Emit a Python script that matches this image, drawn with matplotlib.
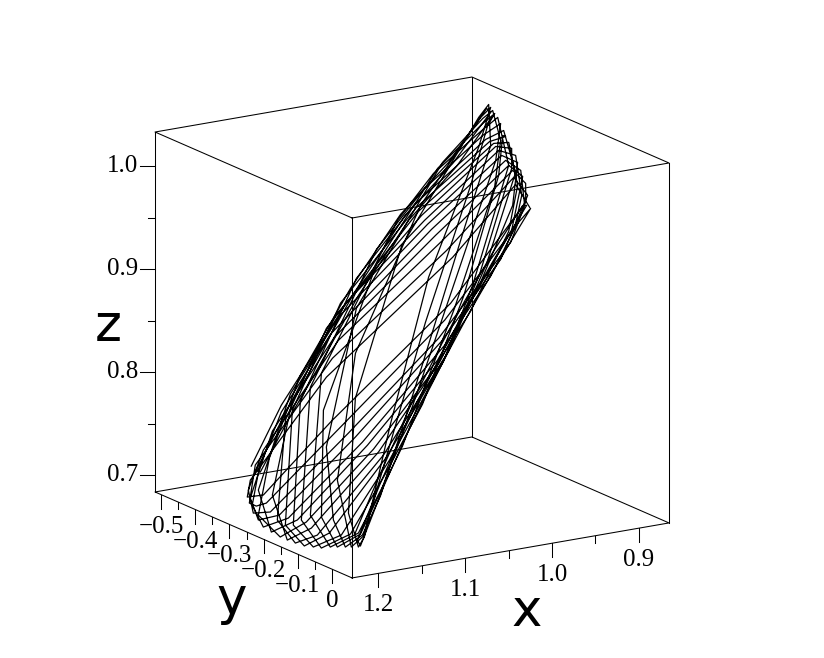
import matplotlib
matplotlib.use('Agg')
import matplotlib.pyplot as plt
from matplotlib.lines import Line2D
from matplotlib.transforms import IdentityTransform
from mpl_toolkits.mplot3d import proj3d

nan = float('nan')

# orbit, traced by eye loop by loop from the scallops at the top and bottom of the band
curve_x = [
    .9177, .9102, .9777, 1.0977, 1.1877, 1.1986, 1.1909, 1.1209, 1.0048, .9164,
    .9056, .9034, .9740, 1.0717, 1.1652, 1.1942, 1.2053, 1.1978, 1.1208, 1.0297, .9454, .9186,
    .9001, .9006, .9703, 1.0715, 1.1362, 1.1765, 1.2012, 1.2092, 1.1939, 1.1202, 1.0312, .9731, .9358, .9140,
    .8937, .8977, .9679, 1.0457, 1.1072, 1.1673, 1.2044, 1.2081, 1.1889, 1.1197, 1.0536, 1.0012, .9399, .9100,
    .8890, .8958, .9653, 1.0697, 1.1390, 1.1995, 1.2053, 1.1918, 1.1191, 1.0331, .9672, .9034,
    .8843, .8967, .9639, 1.0289, 1.1221, 1.1959, 1.2003, 1.1820, 1.1195, 1.0409, .9855, .9022,
    .8792, .8942, .9374, .9789, 1.0975, 1.1832, 1.1934, 1.1739, 1.1362, 1.1062, 1.0061, .9199, .8912,
    .8773, .8859, .9275, 1.0461, 1.1378, 1.1766, 1.1872, 1.1734, 1.1438, 1.0532, .9556, .8981,
    .8755, .8870, .9922, 1.0980, 1.1665, 1.1819, 1.1738, 1.0985, .9989, .9042,
    .8764, .8862, .9610, 1.0722, 1.1522, 1.1848, 1.1736, 1.1211, 1.0259, .9291, .8879,
    .8781, .8898, .9329, 1.0127, 1.1178, 1.1798, 1.1905, 1.1736, 1.1400, 1.0792, .9805, .9046,
    .8815, .8956, .9506, 1.0041, 1.1100, 1.1897, 1.1976, 1.1777, 1.1276, 1.0740, .9955, .9120, .8875,
    .8869, .8963, .9648, 1.0497, 1.1305, 1.1991, 1.2034, 1.1858, 1.1190, 1.0371, .9764, .9027,
    .8913, .8966, .9663, 1.0576, 1.1248, 1.1872, 1.2069, 1.1902, 1.1194, 1.0431, .9843, .9235,
    .8969, .8994, .9690, 1.0585, 1.1222, 1.1901, 1.2088, 1.1913, 1.1199, 1.0427, .9382,
    .9028, .9022, .9720, 1.0716, 1.1506, 1.1980, 1.2072, 1.1959, 1.1203, 1.0303, .9592,
    .9116, .9070, .9761, 1.0844, 1.1771, 1.2012, 1.2001, 1.1943, 1.1206, 1.0169, .9308,
    .9179, .9627, 1.0006, 1.0346, 1.0791, 1.0967, 1.1374, 1.1805,
    1.1783, 1.1364, 1.0957, 1.0775, 1.0330, .9991, .9611, .9178,
    .9194, .9601, .9980, 1.0320, 1.0764, 1.0952, 1.1359, 1.1767, nan,
    1.1793, 1.1322, 1.1072, 1.0370, .9743, .9250, .8786,
    .8793, .9239, .9739, 1.0377, 1.1090, 1.1335, 1.1795,
    1.1790, 1.1332, 1.1096, 1.0377, .9744, .9241, .8817,
]
curve_y = [
    -.2159, -.2758, -.2888, -.3526, -.3465, -.3276, -.3003, -.2792, -.2257, -.2308,
    -.2584, -.3018, -.3332, -.3836, -.3656, -.3358, -.2930, -.2624, -.2297, -.1976, -.2010, -.2283,
    -.2867, -.3296, -.3691, -.4074, -.3868, -.3484, -.3065, -.2538, -.2197, -.1902, -.1762, -.1894, -.2138, -.2485,
    -.3179, -.3573, -.3955, -.4232, -.4046, -.3427, -.2806, -.2072, -.1799, -.1593, -.1605, -.1764, -.2208, -.2706,
    -.3500, -.3769, -.4198, -.4237, -.3676, -.2375, -.1701, -.1402, -.1316, -.1598, -.2158, -.2933,
    -.3768, -.3978, -.4379, -.4396, -.3668, -.2000, -.1303, -.0949, -.1131, -.1548, -.2104, -.3166,
    -.4071, -.4189, -.4467, -.4465, -.3678, -.1824, -.0982, -.0656, -.0881, -.1088, -.2110, -.3125, -.3680,
    -.4267, -.4340, -.4457, -.3961, -.2510, -.1318, -.0699, -.0552, -.0778, -.1876, -.3097, -.3797,
    -.4430, -.4430, -.4011, -.2673, -.1135, -.0453, -.0485, -.1635, -.3051, -.3995,
    -.4348, -.4392, -.4247, -.3326, -.1822, -.0586, -.0518, -.1206, -.2455, -.3594, -.4144,
    -.4185, -.4272, -.4464, -.4222, -.3104, -.1587, -.0850, -.0604, -.0846, -.1480, -.2610, -.3484,
    -.3927, -.4093, -.4424, -.4440, -.3683, -.1922, -.1137, -.0792, -.1013, -.1320, -.2114, -.3210, -.3715,
    -.3644, -.3874, -.4299, -.4335, -.3689, -.2151, -.1487, -.1204, -.1230, -.1583, -.2132, -.3066,
    -.3356, -.3687, -.4083, -.4252, -.3834, -.2833, -.1896, -.1616, -.1455, -.1609, -.1962, -.2509,
    -.3040, -.3443, -.3840, -.4170, -.3959, -.3169, -.2314, -.1998, -.1764, -.1676, -.2165,
    -.2741, -.3166, -.3529, -.3956, -.3762, -.3204, -.2734, -.2410, -.2107, -.1876, -.1952,
    -.2372, -.2897, -.3103, -.3689, -.3589, -.3150, -.2975, -.2829, -.2535, -.2125, -.2150,
    -.2126, -.1951, -.1779, -.1588, -.1309, -.1183, -.0852, -.0430,
    -.0573, -.0967, -.1297, -.1438, -.1718, -.1907, -.2080, -.2245,
    -.2320, -.2195, -.2022, -.1832, -.1552, -.1397, -.1066, -.0703, nan,
    -.3651, -.3969, -.4046, -.4364, -.4495, -.4343, -.4409,
    -.4276, -.4253, -.4390, -.4231, -.3883, -.3787, -.3498,
    -.3394, -.3650, -.3750, -.4112, -.4257, -.4134, -.4184,
]
curve_z = [
    .9582, .9707, .9078, .7997, .7136, .7015, .7063, .7709, .8763, .9607,
    .9736, .9796, .9155, .8272, .7367, .7065, .6919, .6963, .7665, .8500, .9304, .9584,
    .9813, .9849, .9223, .8296, .7663, .7243, .6971, .6846, .6960, .7634, .8465, .9031, .9407, .9646,
    .9904, .9901, .9269, .8556, .7954, .7326, .6916, .6815, .6972, .7609, .8239, .8752, .9374, .9705,
    .9977, .9938, .9318, .8328, .7618, .6924, .6806, .6907, .7591, .8434, .9110, .9789,
    1.0047, .9948, .9347, .8731, .7778, .6924, .6818, .6959, .7569, .8355, .8932, .9821,
    1.0123, .9991, .9607, .9212, .8013, .7027, .6854, .7009, .7388, .7692, .8738, .9649, .9973,
    1.0159, 1.0083, .9700, .8528, .7523, .7044, .6886, .7004, .7306, .8267, .9307, .9918,
    1.0191, 1.0082, .9044, .7917, .7123, .6914, .6995, .7816, .8892, .9879,
    1.0176, 1.0086, .9362, .8221, .7322, .6899, .6999, .7561, .8581, .9605, 1.0047,
    1.0143, 1.0041, .9649, .8869, .7766, .7038, .6869, .7006, .7349, .7984, .9025, .9827,
    1.0088, .9968, .9476, .8970, .7894, .6975, .6828, .6985, .7482, .8019, .8838, .9732, 1.0011,
    1.0011, .9942, .9331, .8528, .7700, .6907, .6806, .6947, .7583, .8393, .9021, .9808,
    .9943, .9922, .9296, .8444, .7768, .7082, .6809, .6942, .7600, .8339, .8931, .9559,
    .9860, .9874, .9249, .8428, .7805, .7086, .6829, .6967, .7623, .8349, .9388,
    .9776, .9821, .9191, .8285, .7515, .7015, .6883, .6961, .7653, .8486, .9168,
    .9659, .9751, .9112, .8137, .7249, .6979, .6973, .7015, .7688, .8635, .9457,
    .9577, .9134, .8758, .8418, .7970, .7791, .7374, .6925,
    .6959, .7394, .7812, .7997, .8445, .8785, .9161, .9589,
    .9580, .9182, .8806, .8466, .8018, .7825, .7408, .6987, nan,
    .7233, .7710, .7954, .8650, .9258, .9713, 1.0160,
    1.0142, .9714, .9254, .8632, .7923, .7681, .7217,
    .7212, .7671, .7904, .8620, .9235, .9703, 1.0110,
]

x_lim = (1.23, 0.8654)
y_lim = (0.0585, -0.5175)
z_lim = (0.6835, 1.0335)

x_major = [1.2, 1.1, 1.0, 0.9]
x_minor = [1.15, 1.05, 0.95]
x_labels = ['1.2', '1.1', '1.0', '0.9']
y_major = [-0.5, -0.4, -0.3, -0.2, -0.1, 0]
y_minor = [-0.45, -0.35, -0.25, -0.15, -0.05]
y_labels = ['\u22120.5', '\u22120.4', '\u22120.3', '\u22120.2', '\u22120.1', '0']
z_major = [1.0, 0.9, 0.8, 0.7]
z_minor = [0.95, 0.85, 0.75]
z_labels = ['1.0', '0.9', '0.8', '0.7']

W, H = 824, 658
fig = plt.figure(figsize=(W / 100, H / 100), dpi=100)
side = 626.9
ax = fig.add_axes([90.1 / W, 8.6 / H, side / W, side / H], projection='3d', proj_type='ortho')
ax.set_box_aspect((374.7, 369.4, 374.4))
ax.view_init(elev=15.97, azim=-122.24)
ax.set_xlim(*x_lim)
ax.set_ylim(*y_lim)
ax.set_zlim(*z_lim)
ax.set_axis_off()

# box
x0, x1 = x_lim
y0, y1 = y_lim
z0, z1 = z_lim
for zz in (z0, z1):
    ax.plot([x0, x1, x1, x0, x0], [y0, y0, y1, y1, y0], [zz] * 5, color='k', lw=0.75)
for xx, yy in ((x0, y0), (x1, y0), (x1, y1), (x0, y1)):
    ax.plot([xx, xx], [yy, yy], [z0, z1], color='k', lw=0.75)

ax.plot(curve_x, curve_y, curve_z, color='k', lw=0.9)


def to_px(x, y, z):
    px, py, _ = proj3d.proj_transform(x, y, z, ax.get_proj())
    return ax.transData.transform((px, py))


def tick(p, dx, dy):
    fig.add_artist(Line2D([p[0], p[0] + dx], [p[1], p[1] + dy], color='k', lw=0.75,
                          transform=IdentityTransform()))


ax.apply_aspect()
serif = dict(family='Liberation Serif', size=18, color='k')

for v, s in zip(x_major, x_labels):
    p = to_px(v, y0, z0)
    tick(p, 0, -14)
    fig.text(p[0] / W, (p[1] - 32) / H, s, ha='center', va='center', **serif)
for v in x_minor:
    tick(to_px(v, y0, z0), 0, -7)

for v, s in zip(y_major, y_labels):
    p = to_px(x0, v, z0)
    tick(p, 0, -14)
    fig.text(p[0] / W, (p[1] - 32) / H, s, ha='center', va='center', **serif)
for v in y_minor:
    tick(to_px(x0, v, z0), 0, -7)

for v, s in zip(z_major, z_labels):
    p = to_px(x0, y1, v)
    tick(p, -15, 0)
    fig.text((p[0] - 17) / W, p[1] / H, s, ha='right', va='center', **serif)
for v in z_minor:
    tick(to_px(x0, y1, v), -7, 0)

big = dict(family='DejaVu Sans', size=37, color='k', ha='center', va='center')
fig.text(527 / W, (H - 612) / H, 'x', **big)
fig.text(232 / W, (H - 600) / H, 'y', **big)
fig.text(108 / W, (H - 327) / H, 'z', **big)

fig.savefig('out.png', dpi=100)
